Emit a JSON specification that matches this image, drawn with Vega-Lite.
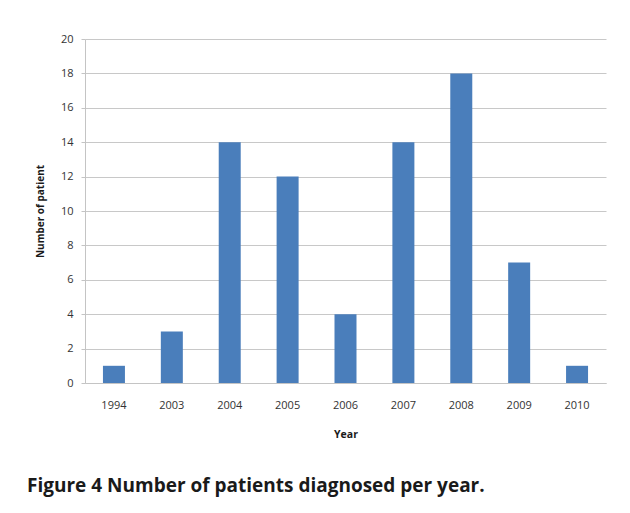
{
  "$schema": "https://vega.github.io/schema/vega-lite/v6.json",
  "width": 521,
  "height": 344,
  "autosize": {"type": "none"},
  "padding": {"left": 85, "top": 39, "right": 24, "bottom": 130},
  "background": "white",
  "config": {
    "view": {"stroke": null},
    "font": "Open Sans"
  },
  "title": {
    "text": "Figure 4 Number of patients diagnosed per year.",
    "orient": "bottom",
    "anchor": "start",
    "frame": "group",
    "dx": -58,
    "offset": 37,
    "font": "Open Sans",
    "fontSize": 19,
    "fontWeight": "bold",
    "color": "#1a1a1a"
  },
  "data": {
    "values": [
      {"year": "1994", "patients": 1},
      {"year": "2003", "patients": 3},
      {"year": "2004", "patients": 14},
      {"year": "2005", "patients": 12},
      {"year": "2006", "patients": 4},
      {"year": "2007", "patients": 14},
      {"year": "2008", "patients": 18},
      {"year": "2009", "patients": 7},
      {"year": "2010", "patients": 1}
    ]
  },
  "mark": {"type": "bar", "color": "#4a7ebb"},
  "encoding": {
    "x": {
      "field": "year",
      "type": "ordinal",
      "title": "Year",
      "scale": {"paddingInner": 0.62, "paddingOuter": 0.31},
      "axis": {
        "labelAngle": 0,
        "ticks": false,
        "domainColor": "#c4c4c4",
        "labelFont": "Open Sans",
        "labelFontSize": 11,
        "labelColor": "#333333",
        "labelPadding": 16,
        "titleFont": "Open Sans",
        "titleFontSize": 10.5,
        "titleFontWeight": "bold",
        "titleColor": "#1a1a1a",
        "titlePadding": 19
      }
    },
    "y": {
      "field": "patients",
      "type": "quantitative",
      "title": "Number of patient",
      "scale": {"domain": [0, 20]},
      "axis": {
        "values": [0, 2, 4, 6, 8, 10, 12, 14, 16, 18, 20],
        "gridColor": "#c8c8c8",
        "domainColor": "#c4c4c4",
        "tickColor": "#c4c4c4",
        "tickSize": 4,
        "labelFont": "Open Sans",
        "labelFontSize": 11,
        "labelColor": "#333333",
        "labelPadding": 8,
        "titleFont": "Open Sans",
        "titleFontSize": 10,
        "titleFontWeight": "bold",
        "titleColor": "#1a1a1a",
        "titlePadding": 15
      }
    }
  }
}
